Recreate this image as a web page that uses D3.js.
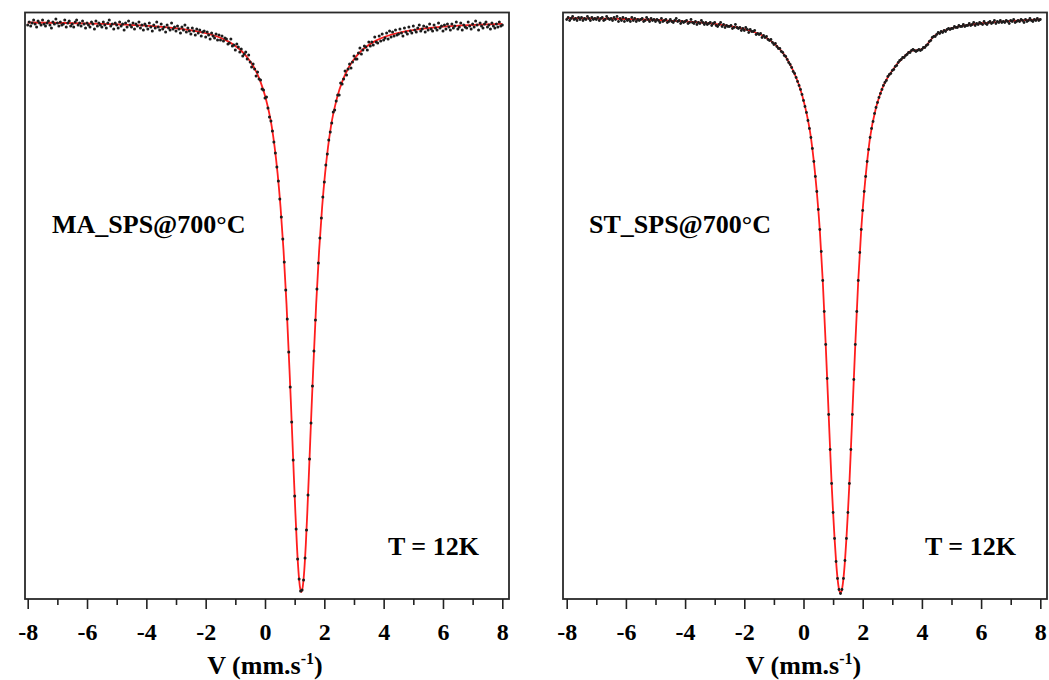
<!DOCTYPE html>
<html><head><meta charset="utf-8">
<script src="https://cdn.jsdelivr.net/npm/d3@7"></script>
<style>
body{margin:0;background:#fff}
svg{display:block}
text{font-family:"Liberation Serif","Times New Roman",serif;font-weight:bold;fill:#000}
</style>
</head><body>
<svg id="chart" width="1049" height="680"></svg>
<script>
// Channel calibration of the spectrometer (mm/s): channel i sits at velocityStart + i*velocityStep
const velocityStart = -8, velocityStep = 0.05;
const majorTicks = [-8, -6, -4, -2, 0, 2, 4, 6, 8];
const minorTicks = [-7, -5, -3, -1, 1, 3, 5, 7];
const sampleLabels = ["MA_SPS@700°C", "ST_SPS@700°C"];
const temperatureLabel = "T = 12K";
const axisTitle = "V (mm.s";
const axisTitleSup = "-1";

// Relative transmission (%) — MA_SPS@700°C, 321 channels
const maTransmission = [
99.92,99.98,99.90,99.96,100.02,99.94,99.88,100.00,99.96,99.92,
100.02,99.94,99.90,99.96,100.00,99.92,99.86,99.98,99.94,100.04,
99.96,99.90,99.98,99.92,99.94,100.02,99.88,99.96,100.00,99.90,
99.94,99.88,99.98,100.02,99.92,99.96,99.90,100.00,99.94,99.86,
99.96,99.92,99.88,99.98,99.94,99.84,100.00,99.90,99.96,99.92,
99.88,99.98,99.92,99.86,99.96,100.02,99.90,99.94,99.84,99.96,
99.92,99.86,99.98,99.90,99.94,99.82,99.96,99.88,100.00,99.92,
99.88,99.96,99.84,99.94,99.90,99.98,99.86,99.92,99.82,99.94,
99.90,99.84,99.96,99.88,99.80,99.92,99.86,99.98,99.88,99.82,
99.94,99.84,99.88,99.78,99.92,99.86,99.82,99.96,99.84,99.88,
99.80,99.90,99.84,99.76,99.88,99.82,99.92,99.78,99.86,99.80,
99.74,99.86,99.80,99.72,99.84,99.76,99.82,99.70,99.78,99.80,
99.68,99.78,99.72,99.64,99.76,99.70,99.66,99.74,99.62,99.72,
99.62,99.70,99.60,99.66,
99.64,99.54,99.56,99.64,99.50,99.52,99.42,99.54,99.48,99.38,
99.44,99.30,99.34,99.38,99.24,99.32,99.18,99.08,99.14,99.04,
98.90,98.98,98.84,98.82,98.64,98.62,98.46,98.48,98.26,98.08,98.00,
97.80,97.58,97.36,97.08,96.80,96.44,96.08,95.64,95.18,
94.62,94.04,93.38,92.68,91.98,91.22,90.50,89.84,89.24,88.84,88.60,
88.62,88.82,89.26,89.82,90.52,91.24,91.96,92.70,93.40,94.02,
94.64,95.16,95.66,96.06,96.48,96.78,97.12,97.34,97.62,97.78,
97.96,98.18,98.22,98.40,98.52,98.52,98.76,98.74,98.84,99.00,
98.92,99.04,99.14,99.06,99.18,99.30,99.24,99.24,99.36,99.46,
99.34,99.42,99.50,99.48,99.42,99.58,99.50,99.58,99.52,99.68,99.58,
99.56,99.70,99.60,99.74,99.62,99.66,99.76,99.64,99.80,99.68,
99.78,99.70,99.82,99.72,99.74,99.84,99.76,99.70,99.86,99.78,
99.74,99.88,99.80,99.76,99.90,99.82,99.78,99.86,99.92,99.80,
99.84,99.90,99.78,99.88,99.82,99.94,99.84,99.80,99.92,99.86,
99.82,99.96,99.86,99.90,99.80,99.92,99.84,99.94,99.88,99.82,
99.94,99.86,99.90,99.98,99.84,99.88,99.96,99.82,99.92,99.88,
99.86,99.98,99.90,99.84,99.94,99.88,100.00,99.92,99.82,99.96,
99.90,99.86,99.94,99.98,99.88,99.92,99.84,99.96,99.90,99.86,
99.94,99.88,99.98,99.90,99.92
];
const maFitVelocity = [-8,-6.775,-5.775,-4.775,-3.775,-2.775,-2.275,-1.775,-1.275,-0.775,-0.575,-0.375,-0.175,0.025,0.225,0.325,0.425,0.525,0.625,0.725,0.825,0.875,0.925,0.975,1.025,1.075,1.125,1.175,1.225,
1.275,1.325,1.375,1.425,1.475,1.525,1.575,1.625,1.725,1.825,1.925,2.025,2.125,2.225,2.425,2.625,2.825,3.025,3.225,3.725,4.225,4.725,5.225,6.225,7.225,8];
const maFitTransmission = [99.970,99.960,99.948,99.929,99.898,99.841,99.794,99.721,99.602,99.390,99.256,99.076,98.822,98.454,97.898,97.478,96.946,96.270,95.412,94.338,93.036,92.336,91.602,90.864,90.156,89.522,89.020,88.694,88.580,
88.694,89.020,89.522,90.156,90.864,91.602,92.336,93.036,94.338,95.412,96.270,96.946,97.478,97.898,98.454,98.822,99.076,99.256,99.390,99.602,99.721,99.794,99.841,99.898,99.929,99.944];

// Relative transmission (%) — ST_SPS@700°C, 321 channels
const stTransmission = [
99.94,99.98,99.92,99.96,100.00,99.94,99.96,99.92,99.98,99.94,
99.98,99.92,99.96,99.94,100.00,99.96,99.92,99.98,99.94,99.96,
99.94,99.98,99.92,99.96,99.98,99.92,99.94,100.00,99.96,99.94,
99.96,99.92,99.98,99.94,100.00,99.90,99.96,99.92,99.98,99.90,
99.96,99.92,99.94,99.90,99.98,99.92,99.96,99.90,99.94,99.92,
99.94,99.96,99.90,99.92,99.98,99.94,99.90,99.96,99.92,99.94,
99.90,99.94,99.92,99.88,99.96,99.90,99.92,99.94,99.88,99.90,
99.94,99.90,99.88,99.92,99.96,99.90,99.92,99.86,99.90,99.88,
99.90,99.92,99.86,99.88,99.94,99.88,99.86,99.90,99.84,99.88,
99.86,99.92,99.88,99.84,99.88,99.84,99.86,99.88,99.82,99.86,
99.88,99.82,99.80,99.84,99.88,99.80,99.84,99.78,99.82,99.80,
99.80,99.82,99.76,99.78,99.84,99.78,99.76,99.78,99.72,99.76,
99.72,99.78,99.74,99.68,99.74,99.70,99.70,99.72,99.64,99.66,
99.64,99.66,99.58,
99.62,99.58,99.60,99.54,99.52,99.54,99.48,99.44,99.46,99.40,
99.36,99.36,99.30,99.28,99.22,99.20,99.14,99.08,99.04,98.98,
98.90,98.86,98.78,98.70,98.62,98.54,98.44,98.32,98.20,98.08,
97.92,97.76,97.58,97.36,97.10,96.80,96.50,96.14,95.74,95.30,
94.72,94.10,93.44,92.76,92.04,91.34,90.66,90.08,89.56,89.10,
88.76,88.54,88.46,
88.54,88.76,89.12,89.56,90.08,90.66,91.34,92.04,92.74,93.44,
94.10,94.72,95.28,95.74,96.12,96.50,96.80,97.10,97.34,97.58,
97.76,97.90,98.06,98.18,98.28,98.38,98.46,98.54,98.62,98.68,
98.72,98.80,98.84,98.86,98.92,98.94,99.00,99.02,99.08,99.12,
99.14,99.18,99.18,99.22,99.24,99.28,99.28,99.32,99.34,99.32,
99.30,99.32,99.34,99.32,99.34,99.38,99.38,99.42,99.44,99.50,
99.52,99.58,99.60,99.60,99.64,99.68,99.66,99.70,99.68,99.72,
99.70,99.74,99.76,99.74,99.76,99.76,99.80,99.78,99.78,99.82,
99.80,99.80,99.84,99.80,99.82,99.82,99.86,99.82,99.84,99.88,
99.82,99.86,99.84,99.88,99.86,99.84,99.90,99.86,99.84,99.88,
99.90,99.86,99.88,99.92,99.86,99.90,99.88,99.92,99.88,99.90,
99.88,99.92,99.90,99.86,99.92,99.90,99.94,99.88,99.90,99.92,
99.90,99.94,99.92,99.88,99.94,99.90,99.92,99.96,99.92,99.90,
99.94,99.92,99.96,99.92,99.94
];
const stFitVelocity = [-8,-6.75,-5.75,-4.75,-3.75,-2.75,-2.25,-1.75,-1.35,-0.95,-0.75,-0.55,-0.35,-0.15,0.05,0.25,0.35,0.45,0.55,0.65,0.75,0.85,0.9,0.95,1.0,1.05,1.1,1.15,1.2,1.25,
1.3,1.35,1.4,1.45,1.5,1.55,1.6,1.65,1.75,1.85,1.95,2.05,2.15,2.25,2.45,2.6,2.75,2.9,3.05,3.2,3.35,3.5,3.65,3.8,3.95,4.1,4.25,4.4,4.6,4.85,5.25,5.75,6.25,7.25,8];
const stFitTransmission = [99.968,99.958,99.945,99.925,99.892,99.832,99.782,99.705,99.610,99.438,99.312,99.146,98.918,98.626,98.206,97.582,97.096,96.490,95.734,94.720,93.442,92.042,91.336,90.658,90.082,89.558,89.108,88.762,88.544,88.470,
88.544,88.762,89.108,89.558,90.082,90.658,91.336,92.042,93.442,94.720,95.734,96.490,97.096,97.582,98.174,98.466,98.680,98.832,98.960,99.076,99.166,99.254,99.316,99.324,99.336,99.390,99.493,99.602,99.676,99.736,99.802,99.845,99.874,99.917,99.941];

const svg = d3.select("#chart");

const panels = [
  {data: maTransmission, fitV: maFitVelocity, fitT: maFitTransmission, label: sampleLabels[0],
   frame: [25, 12.5, 509, 599], xr: [27.7, 502.3], yd: [100, 88.58], yr: [21, 592],
   labelPos: [52, 233], tempPos: [388, 555], dotR: 1.5},
  {data: stTransmission, fitV: stFitVelocity, fitT: stFitTransmission, label: sampleLabels[1],
   frame: [563, 12.5, 1047, 599], xr: [566.7, 1040.3], yd: [100, 88.47], yr: [16.5, 593],
   labelPos: [589, 233], tempPos: [925, 555], dotR: 1.4}
];

panels.forEach(p => {
  const x = d3.scaleLinear().domain([-8, 8]).range(p.xr);
  const y = d3.scaleLinear().domain(p.yd).range(p.yr);
  const g = svg.append("g");

  // fit line
  const fit = p.fitV.map((v, i) => [v, p.fitT[i]]);
  g.append("path").datum(fit)
    .attr("fill", "none").attr("stroke", "#ff1e1e").attr("stroke-width", 1.8)
    .attr("d", d3.line().x(d => x(d[0])).y(d => y(d[1])).curve(d3.curveMonotoneX));

  // data points
  g.append("g").selectAll("circle").data(p.data).join("circle")
    .attr("cx", (d, i) => x(velocityStart + i * velocityStep))
    .attr("cy", d => y(d))
    .attr("r", p.dotR)
    .attr("fill", "#1c1c1c");

  // frame
  g.append("rect")
    .attr("x", p.frame[0]).attr("y", p.frame[1])
    .attr("width", p.frame[2] - p.frame[0]).attr("height", p.frame[3] - p.frame[1])
    .attr("fill", "none").attr("stroke", "#2a2a2a").attr("stroke-width", 1.8);

  // axis
  const major = g.append("g").attr("transform", `translate(0,${p.frame[3]})`)
    .call(d3.axisBottom(x).tickValues(majorTicks).tickSize(10).tickPadding(14).tickFormat(d => String(d)));
  major.select(".domain").remove();
  major.selectAll("line").attr("stroke", "#222").attr("stroke-width", 1.6);
  major.selectAll("text").attr("font-size", 24).attr("fill", "#000")
    .style("font-family", '"Liberation Serif","Times New Roman",serif').style("font-weight", "bold");

  const minor = g.append("g").attr("transform", `translate(0,${p.frame[3]})`)
    .call(d3.axisBottom(x).tickValues(minorTicks).tickSize(6).tickFormat(""));
  minor.select(".domain").remove();
  minor.selectAll("line").attr("stroke", "#222").attr("stroke-width", 1.6);

  // axis title
  const t = g.append("text").attr("x", x(0)).attr("y", 674).attr("text-anchor", "middle").attr("font-size", 26);
  t.append("tspan").text(axisTitle);
  t.append("tspan").attr("font-size", 16).attr("dy", -10).text(axisTitleSup);
  t.append("tspan").attr("dy", 10).text(")");

  // labels
  g.append("text").attr("x", p.labelPos[0]).attr("y", p.labelPos[1]).attr("font-size", 26).text(p.label);
  g.append("text").attr("x", p.tempPos[0]).attr("y", p.tempPos[1]).attr("font-size", 26).text(temperatureLabel);
});
</script>
</body></html>
